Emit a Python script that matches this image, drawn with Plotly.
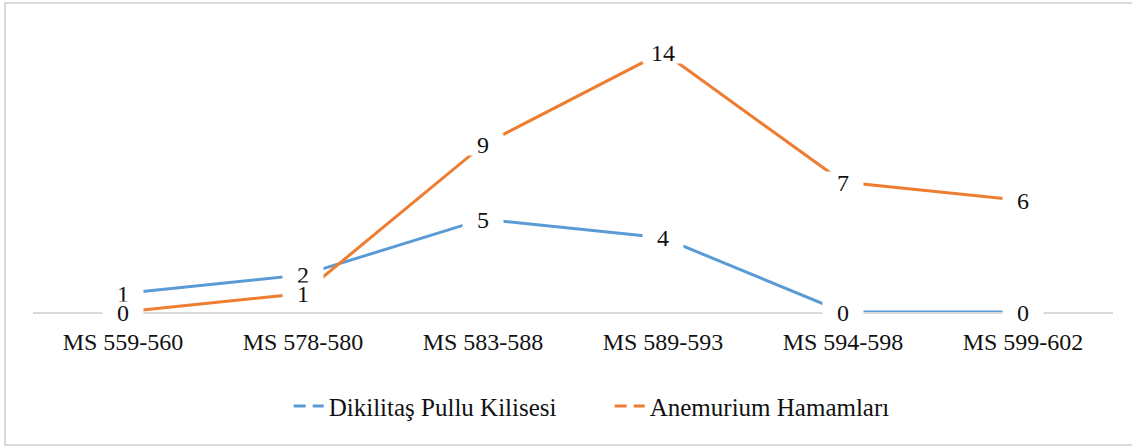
import plotly.graph_objects as go

# Office-style series colours
COLORS = {
    "Dikilitaş Pullu Kilisesi": "#5B9BD5",
    "Anemurium Hamamları": "#ED7D31",
}

categories = ["MS 559-560", "MS 578-580", "MS 583-588", "MS 589-593", "MS 594-598", "MS 599-602"]
dikilitas = [1, 2, 5, 4, 0, 0]
anemurium = [0, 1, 9, 14, 7, 6]

SERIES = {
    "Dikilitaş Pullu Kilisesi": dikilitas,
    "Anemurium Hamamları": anemurium,
}

FONT = "Liberation Serif"

fig = go.Figure()

for name, values in SERIES.items():
    # the real line, no legend entry
    fig.add_trace(go.Scatter(
        x=categories, y=values, mode="lines", showlegend=False,
        line=dict(color=COLORS[name], width=3), hoverinfo="skip",
    ))

for name, values in SERIES.items():
    # legend sample drawn as a dashed stroke, like the Excel legend
    fig.add_trace(go.Scatter(
        x=[None], y=[None], mode="lines", name=name,
        line=dict(color=COLORS[name], width=3, dash="12px,7px"),
    ))

# data labels sit on the points with a white box that hides the line
annotations = []
for name, values in SERIES.items():
    for cat, v in zip(categories, values):
        annotations.append(dict(
            x=cat, y=v, xref="x", yref="y", text=str(v), showarrow=False,
            font=dict(family=FONT, size=24, color="#111111"),
            bgcolor="white", width=36, height=17, borderpad=2,
            xanchor="center", yanchor="middle",
        ))

fig.update_layout(
    width=1132, height=447,
    margin=dict(l=33, r=19, t=15, b=135),
    paper_bgcolor="white", plot_bgcolor="white",
    font=dict(family=FONT, size=24, color="#111111"),
    annotations=annotations,
    legend=dict(
        orientation="h", x=0.534, xanchor="center", y=-0.24, yanchor="top",
        font=dict(family=FONT, size=25, color="#111111"),
        traceorder="normal", entrywidth=276,
    ),
    shapes=[dict(
        type="rect", xref="paper", yref="paper",
        x0=-0.0259, x1=1.03, y0=-0.448, y1=1.04,
        line=dict(color="#d9d9d9", width=2), layer="below",
    )],
)

fig.update_xaxes(
    range=[-0.5, 5.5], automargin=False, layer="below traces",
    showgrid=False, showline=True, linecolor="#d9d9d9", linewidth=1.5,
    ticks="", ticklabelstandoff=7,
    tickfont=dict(family=FONT, size=24, color="#111111"),
    zeroline=False,
)
fig.update_yaxes(
    range=[0, 16], automargin=False, showgrid=False, showticklabels=False,
    zeroline=False, showline=False,
)

# drop the default page margin so the figure sits at the window's corner
fig.write_html(
    "out.html",
    config={"displayModeBar": False},
    post_script="document.body.style.margin='0';",
)
